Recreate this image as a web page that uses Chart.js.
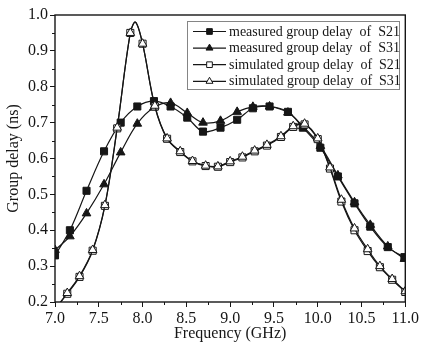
<!DOCTYPE html>
<html>
<head>
<meta charset="utf-8">
<script src="https://cdn.jsdelivr.net/npm/chart.js@4/dist/chart.umd.min.js"></script>
<style>
  html, body { margin: 0; padding: 0; background: #fff; }
  #wrap { width: 421px; height: 348px; }
</style>
</head>
<body>
<div id="wrap"><canvas id="delayChart" width="421" height="348"></canvas></div>
<script>
// Measured curves (frequency in GHz, delay in ns)
const measFreq = [7.00, 7.17, 7.36, 7.56, 7.75, 7.94, 8.13, 8.32, 8.51, 8.69, 8.89, 9.08, 9.26, 9.45, 9.66, 9.83, 10.03, 10.23, 10.42, 10.60, 10.80, 10.99];
const measS21 = [0.33, 0.40, 0.51, 0.62, 0.70, 0.745, 0.76, 0.745, 0.714, 0.675, 0.686, 0.708, 0.74, 0.745, 0.73, 0.686, 0.63, 0.55, 0.475, 0.41, 0.353, 0.325];
const measS31 = [0.345, 0.383, 0.447, 0.528, 0.617, 0.697, 0.742, 0.755, 0.727, 0.70, 0.705, 0.73, 0.744, 0.745, 0.728, 0.69, 0.635, 0.553, 0.478, 0.415, 0.355, 0.32];

// Simulated curves (the 7.92 point is the unmarked peak of the curve)
const simFreq = [7.00, 7.14, 7.28, 7.43, 7.57, 7.71, 7.86, 7.92, 8.00, 8.14, 8.28, 8.43, 8.57, 8.72, 8.86, 9.00, 9.14, 9.28, 9.42, 9.58, 9.72, 9.85, 10.00, 10.14, 10.27, 10.42, 10.57, 10.71, 10.85, 11.00];
const simS21 = [0.18, 0.223, 0.27, 0.343, 0.468, 0.684, 0.95, 0.98, 0.92, 0.745, 0.655, 0.618, 0.592, 0.579, 0.577, 0.59, 0.603, 0.62, 0.636, 0.66, 0.688, 0.695, 0.654, 0.572, 0.48, 0.40, 0.342, 0.297, 0.262, 0.228];
const simS31 = [0.18, 0.225, 0.272, 0.345, 0.47, 0.686, 0.95, 0.98, 0.92, 0.747, 0.656, 0.62, 0.593, 0.58, 0.578, 0.592, 0.605, 0.622, 0.638, 0.662, 0.69, 0.697, 0.656, 0.575, 0.485, 0.405, 0.347, 0.30, 0.264, 0.23];
const simPeakIndex = 7;

const seriesNames = [
    'measured group delay  of  S21',
    'measured group delay  of  S31',
    'simulated group delay  of  S21',
    'simulated group delay  of  S31'
];

const xTicks = { min: 7.0, max: 11.0, step: 0.5 };
const yTicks = { min: 0.2, max: 1.0, step: 0.1 };

const INK = '#161616';
const SERIF = '"Liberation Serif", "Times New Roman", serif';

function toPoints(xs, ys) {
    return xs.map((x, i) => ({ x: x, y: ys[i] }));
}

function simRadius(r) {
    return simFreq.map((f, i) => (i === simPeakIndex ? 0 : r));
}

// frame round the plot area plus the short minor ticks
const framePlugin = {
    id: 'frame',
    afterDraw(chart) {
        const ctx = chart.ctx;
        const a = chart.chartArea;
        const xs = chart.scales.x;
        const ys = chart.scales.y;
        ctx.save();
        ctx.strokeStyle = INK;
        ctx.lineWidth = 1;
        for (let i = 0; i < xs.ticks.length - 1; i++) {
            const px = Math.round(xs.getPixelForValue((xs.ticks[i].value + xs.ticks[i + 1].value) / 2)) + 0.5;
            ctx.beginPath();
            ctx.moveTo(px, a.bottom);
            ctx.lineTo(px, a.bottom + 3);
            ctx.stroke();
        }
        for (let i = 0; i < ys.ticks.length - 1; i++) {
            const py = Math.round(ys.getPixelForValue((ys.ticks[i].value + ys.ticks[i + 1].value) / 2)) + 0.5;
            ctx.beginPath();
            ctx.moveTo(a.left, py);
            ctx.lineTo(a.left - 3, py);
            ctx.stroke();
        }
        ctx.lineWidth = 1.4;
        ctx.strokeRect(a.left, a.top, a.right - a.left, a.bottom - a.top);
        ctx.restore();
    }
};

// Origin style boxed legend: line with marker, then label
const legendPlugin = {
    id: 'boxLegend',
    afterDraw(chart) {
        const ctx = chart.ctx;
        const a = chart.chartArea;
        const x0 = a.left + 132, y0 = a.top + 6, w = 212, h = 68;
        ctx.save();
        ctx.fillStyle = '#fff';
        ctx.fillRect(x0, y0, w, h);
        ctx.strokeStyle = '#858585';
        ctx.lineWidth = 1;
        ctx.strokeRect(x0 + 0.5, y0 + 0.5, w, h);
        chart.data.datasets.forEach((ds, i) => {
            const y = y0 + 10.5 + i * 16.6;
            ctx.strokeStyle = INK;
            ctx.lineWidth = 1.2;
            ctx.beginPath();
            ctx.moveTo(x0 + 6, y);
            ctx.lineTo(x0 + 39, y);
            ctx.stroke();
            ctx.fillStyle = ds.pointBackgroundColor;
            ctx.lineWidth = 1;
            Chart.helpers.drawPoint(ctx, { pointStyle: ds.pointStyle, radius: 4, borderWidth: 1, rotation: 0 }, x0 + 22.5, y);
            ctx.fillStyle = INK;
            ctx.font = '14px ' + SERIF;
            ctx.textBaseline = 'middle';
            ctx.textAlign = 'left';
            ctx.fillText(seriesNames[i], x0 + 42, y + 0.5);
        });
        ctx.restore();
    }
};

const ctx = document.getElementById('delayChart').getContext('2d');
new Chart(ctx, {
    type: 'line',
    data: {
        datasets: [{
            label: seriesNames[0],
            data: toPoints(measFreq, measS21),
            pointStyle: 'rect',
            pointRadius: 5,
            pointBackgroundColor: INK,
            order: 4
        }, {
            label: seriesNames[1],
            data: toPoints(measFreq, measS31),
            pointStyle: 'triangle',
            pointRadius: 5,
            pointBackgroundColor: INK,
            order: 3
        }, {
            label: seriesNames[2],
            data: toPoints(simFreq, simS21),
            pointStyle: 'rect',
            pointRadius: simRadius(5),
            pointBackgroundColor: '#fff',
            order: 2
        }, {
            label: seriesNames[3],
            data: toPoints(simFreq, simS31),
            pointStyle: 'triangle',
            pointRadius: simRadius(5),
            pointBackgroundColor: '#fff',
            order: 1
        }]
    },
    options: {
        responsive: false,
        animation: false,
        devicePixelRatio: 1,
        layout: { padding: { top: 15, right: 14, left: 0, bottom: 0 } },
        elements: {
            line: { borderColor: INK, borderWidth: 1.2, tension: 0.35, fill: false },
            point: { borderColor: INK, borderWidth: 1, hoverRadius: 5 }
        },
        plugins: {
            legend: { display: false },
            tooltip: { enabled: false }
        },
        scales: {
            x: {
                type: 'linear',
                min: xTicks.min,
                max: xTicks.max,
                afterFit: (scale) => { scale.height = 46; },
                border: { display: false },
                grid: { drawOnChartArea: false, drawTicks: true, tickLength: 5, tickColor: INK, tickWidth: 1 },
                ticks: {
                    stepSize: xTicks.step,
                    color: INK,
                    padding: 2,
                    maxRotation: 0,
                    font: { family: SERIF, size: 16 },
                    callback: (v) => Number(v).toFixed(1)
                },
                title: {
                    display: true,
                    text: 'Frequency (GHz)',
                    color: INK,
                    font: { family: SERIF, size: 16 },
                    padding: { top: 0, bottom: 5 }
                }
            },
            y: {
                min: yTicks.min,
                max: yTicks.max,
                afterFit: (scale) => { scale.width = 55; },
                border: { display: false },
                grid: { drawOnChartArea: false, drawTicks: true, tickLength: 5, tickColor: INK, tickWidth: 1 },
                ticks: {
                    stepSize: yTicks.step,
                    color: INK,
                    padding: 2,
                    font: { family: SERIF, size: 16 },
                    callback: (v) => Number(v).toFixed(1)
                },
                title: {
                    display: true,
                    text: 'Group delay (ns)',
                    color: INK,
                    font: { family: SERIF, size: 16 },
                    padding: { top: 4, bottom: 0 }
                }
            }
        }
    },
    plugins: [framePlugin, legendPlugin]
});
</script>
</body>
</html>
